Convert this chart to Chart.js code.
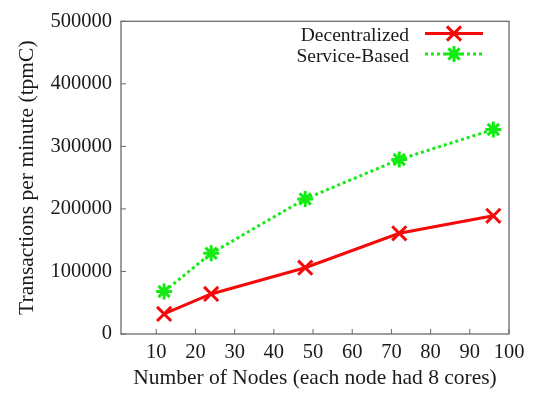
<!DOCTYPE html>
<html>
<head>
<meta charset="utf-8">
<script src="https://cdn.jsdelivr.net/npm/chart.js@4/dist/chart.umd.min.js"></script>
<style>
  html, body { margin: 0; padding: 0; background: #fff; }
  #wrap { width: 540px; height: 394px; }
</style>
</head>
<body>
<div id="wrap"><canvas id="c" width="540" height="394"></canvas></div>
<script>
// Throughput measured for each architecture as the cluster grows
const nodes = [12, 24, 48, 72, 96];
const decentralized = [32000, 64000, 106000, 161000, 189000];
const serviceBased = [68000, 129000, 216000, 279000, 327000];

const xTicks = [10, 20, 30, 40, 50, 60, 70, 80, 90, 100];
const yTicks = [0, 100000, 200000, 300000, 400000, 500000];

const seriesNames = ['Decentralized', 'Service-Based'];
const xTitle = 'Number of Nodes (each node had 8 cores)';
const yTitle = 'Transactions per minute (tpmC)';

const RED = 'rgb(245,10,10)';
const GREEN = 'rgb(20,235,20)';
const TEXT = '#1a1a1a';
const FRAME = '#6a6a6a';
const FONT = 'Liberation Serif, Times New Roman, serif';

const toPoints = (ys) => nodes.map((x, i) => ({ x: x, y: ys[i] }));

// Frame around the plot area plus short inward tick marks
const framePlugin = {
  id: 'frame',
  afterDatasetsDraw(chart) {
    const { ctx, chartArea: a, scales } = chart;
    ctx.save();
    ctx.strokeStyle = FRAME;
    ctx.lineWidth = 1.3;
    ctx.strokeRect(a.left, a.top, a.right - a.left, a.bottom - a.top);
    ctx.lineWidth = 1;
    ctx.beginPath();
    scales.x.ticks.forEach(t => {
      const px = scales.x.getPixelForValue(t.value);
      ctx.moveTo(px, a.bottom);
      ctx.lineTo(px, a.bottom - 5);
    });
    scales.y.ticks.forEach(t => {
      const py = scales.y.getPixelForValue(t.value);
      ctx.moveTo(a.left, py);
      ctx.lineTo(a.left + 5, py);
    });
    ctx.stroke();
    ctx.restore();
  }
};

// Key in the top-right corner: label text on the left, line sample on the right
const keyPlugin = {
  id: 'key',
  afterDatasetsDraw(chart) {
    const { ctx } = chart;
    const textRight = 409, lineL = 425, lineR = 483, rowY = [33.5, 54];
    ctx.save();
    chart.data.datasets.forEach((ds, i) => {
      const y = rowY[i];
      ctx.font = '19.5px ' + FONT;
      ctx.fillStyle = TEXT;
      ctx.textAlign = 'right';
      ctx.textBaseline = 'middle';
      ctx.fillText(ds.label, textRight, y + 2.5);
      ctx.strokeStyle = ds.borderColor;
      ctx.lineWidth = ds.borderWidth;
      ctx.setLineDash(ds.borderDash || []);
      ctx.beginPath();
      ctx.moveTo(lineL, y);
      ctx.lineTo(lineR, y);
      ctx.stroke();
      ctx.setLineDash([]);
      ctx.fillStyle = ds.pointBorderColor;
      ctx.strokeStyle = ds.pointBorderColor;
      Chart.helpers.drawPoint(ctx, {
        pointStyle: ds.pointStyle,
        radius: ds.pointRadius,
        rotation: 0,
        borderWidth: ds.pointBorderWidth
      }, (lineL + lineR) / 2, y);
    });
    ctx.restore();
  }
};

new Chart(document.getElementById('c'), {
  type: 'line',
  data: {
    datasets: [
      {
        label: seriesNames[0],
        data: toPoints(decentralized),
        borderColor: RED,
        borderWidth: 3,
        pointStyle: 'crossRot',
        pointRadius: 10,
        pointBorderWidth: 3,
        pointBorderColor: RED,
        pointBackgroundColor: RED,
        fill: false,
        tension: 0
      },
      {
        label: seriesNames[1],
        data: toPoints(serviceBased),
        borderColor: GREEN,
        borderWidth: 3,
        borderDash: [3, 3],
        pointStyle: 'star',
        pointRadius: 8,
        pointBorderWidth: 3,
        pointBorderColor: GREEN,
        pointBackgroundColor: GREEN,
        fill: false,
        tension: 0
      }
    ]
  },
  options: {
    responsive: false,
    animation: false,
    devicePixelRatio: 1,
    layout: { padding: { left: 0, right: 31, top: 16, bottom: 0 } },
    plugins: { legend: { display: false }, tooltip: { enabled: false } },
    scales: {
      x: {
        type: 'linear',
        min: 1,
        max: 100,
        afterBuildTicks(scale) { scale.ticks = xTicks.map(v => ({ value: v })); },
        afterFit(scale) { scale.height = 60; },
        grid: { display: false, drawTicks: false },
        border: { display: false },
        ticks: {
          padding: 6,
          color: TEXT,
          font: { family: FONT, size: 20.5 },
          maxRotation: 0,
          autoSkip: false,
          callback: v => String(v)
        },
        title: {
          display: true,
          text: xTitle,
          color: TEXT,
          font: { family: FONT, size: 21.5 },
          padding: { top: 0, bottom: 3 }
        }
      },
      y: {
        type: 'linear',
        min: 0,
        max: 500000,
        afterBuildTicks(scale) { scale.ticks = yTicks.map(v => ({ value: v })); },
        afterFit(scale) { scale.width = 121; },
        grid: { display: false, drawTicks: false },
        border: { display: false },
        ticks: {
          padding: 9,
          color: TEXT,
          font: { family: FONT, size: 20.5 },
          autoSkip: false,
          callback: v => String(v)
        },
        title: {
          display: true,
          text: yTitle,
          color: TEXT,
          font: { family: FONT, size: 21.5 },
          padding: { top: 14, bottom: 0 }
        }
      }
    }
  },
  plugins: [framePlugin, keyPlugin]
});
</script>
</body>
</html>
